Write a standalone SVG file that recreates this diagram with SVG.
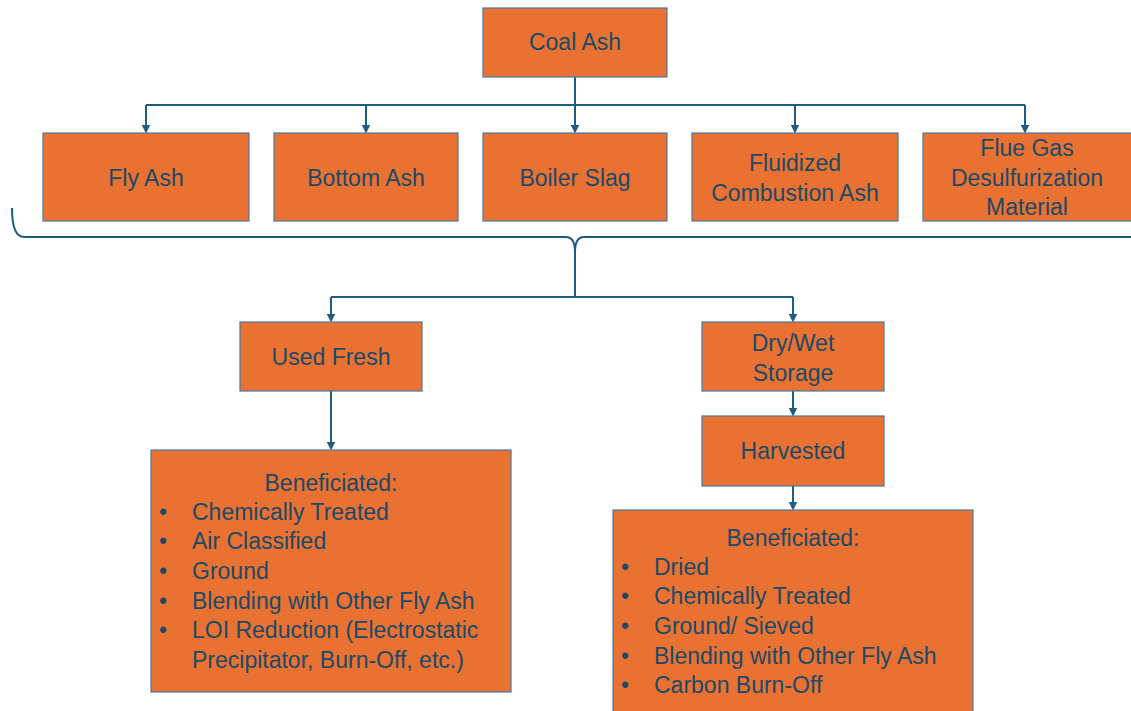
<svg xmlns="http://www.w3.org/2000/svg" width="1131" height="711" viewBox="0 0 1131 711">
<defs>
<marker id="arr" markerWidth="9" markerHeight="9" refX="4.5" refY="4.5" orient="auto" markerUnits="userSpaceOnUse">
<path d="M0,0 L9,4.5 L0,9 z" fill="#1F5C82"/>
</marker>
<style>
.box{fill:#E97132;stroke:#4A78A0;stroke-width:1.2}
.t{font-family:"Liberation Sans",Arial,sans-serif;font-size:23px;fill:#1B4A68}
.c{text-anchor:middle}
.ln{fill:none;stroke:#1F5C82;stroke-width:2}
</style>
</defs>
<rect width="1131" height="711" fill="#ffffff"/>
<g id="connectors">
<path class="ln" d="M575,77 V105"/>
<path class="ln" d="M146,105 H1025"/>
<path class="ln" d="M146,105 V129" marker-end="url(#arr)"/>
<path class="ln" d="M366,105 V129" marker-end="url(#arr)"/>
<path class="ln" d="M575,105 V129" marker-end="url(#arr)"/>
<path class="ln" d="M795,105 V129" marker-end="url(#arr)"/>
<path class="ln" d="M1025,105 V129" marker-end="url(#arr)"/>
<path class="ln" d="M12,208 Q12,237 24,237 H566 Q575,237 575,252 Q575,237 584,237 H1131"/>
<path class="ln" d="M575,252 V297"/>
<path class="ln" d="M331,297 H793"/>
<path class="ln" d="M331,297 V318" marker-end="url(#arr)"/>
<path class="ln" d="M793,297 V318" marker-end="url(#arr)"/>
<path class="ln" d="M331,391 V446" marker-end="url(#arr)"/>
<path class="ln" d="M793,391 V412" marker-end="url(#arr)"/>
<path class="ln" d="M793,486 V506" marker-end="url(#arr)"/>
</g>
<g id="coal-ash"><rect class="box" x="483" y="8" width="184" height="69"/><text class="t c" x="575" y="50">Coal Ash</text></g>
<g id="fly-ash"><rect class="box" x="43" y="133" width="206" height="88"/><text class="t c" x="146" y="186">Fly Ash</text></g>
<g id="bottom-ash"><rect class="box" x="274" y="133" width="184" height="88"/><text class="t c" x="366" y="186">Bottom Ash</text></g>
<g id="boiler-slag"><rect class="box" x="483" y="133" width="184" height="88"/><text class="t c" x="575" y="186">Boiler Slag</text></g>
<g id="fluidized"><rect class="box" x="692" y="133" width="206" height="88"/><text class="t c" x="795" y="171">Fluidized</text><text class="t c" x="795" y="201">Combustion Ash</text></g>
<g id="fgd"><rect class="box" x="923" y="133" width="210" height="88"/><text class="t c" x="1027" y="156">Flue Gas</text><text class="t c" x="1027" y="186">Desulfurization</text><text class="t c" x="1027" y="215">Material</text></g>
<g id="used-fresh"><rect class="box" x="240" y="322" width="182" height="69"/><text class="t c" x="331" y="365">Used Fresh</text></g>
<g id="dry-wet"><rect class="box" x="702" y="322" width="182" height="69"/><text class="t c" x="793" y="351">Dry/Wet</text><text class="t c" x="793" y="381">Storage</text></g>
<g id="harvested"><rect class="box" x="702" y="416" width="182" height="70"/><text class="t c" x="793" y="459">Harvested</text></g>
<g id="benef-left"><rect class="box" x="151" y="450" width="360" height="242"/>
<text class="t c" x="331" y="491">Beneficiated:</text>
<text class="t" x="159" y="520">•</text><text class="t" x="192" y="520">Chemically Treated</text>
<text class="t" x="159" y="549">•</text><text class="t" x="192" y="549">Air Classified</text>
<text class="t" x="159" y="579">•</text><text class="t" x="192" y="579">Ground</text>
<text class="t" x="159" y="609">•</text><text class="t" x="192" y="609">Blending with Other Fly Ash</text>
<text class="t" x="159" y="638">•</text><text class="t" x="192" y="638">LOI Reduction (Electrostatic</text>
<text class="t" x="192" y="668">Precipitator, Burn-Off, etc.)</text>
</g>
<g id="benef-right"><rect class="box" x="613" y="510" width="360" height="210"/>
<text class="t c" x="793" y="546">Beneficiated:</text>
<text class="t" x="621" y="575">•</text><text class="t" x="654" y="575">Dried</text>
<text class="t" x="621" y="604">•</text><text class="t" x="654" y="604">Chemically Treated</text>
<text class="t" x="621" y="634">•</text><text class="t" x="654" y="634">Ground/ Sieved</text>
<text class="t" x="621" y="664">•</text><text class="t" x="654" y="664">Blending with Other Fly Ash</text>
<text class="t" x="621" y="693">•</text><text class="t" x="654" y="693">Carbon Burn-Off</text>
</g>
</svg>
